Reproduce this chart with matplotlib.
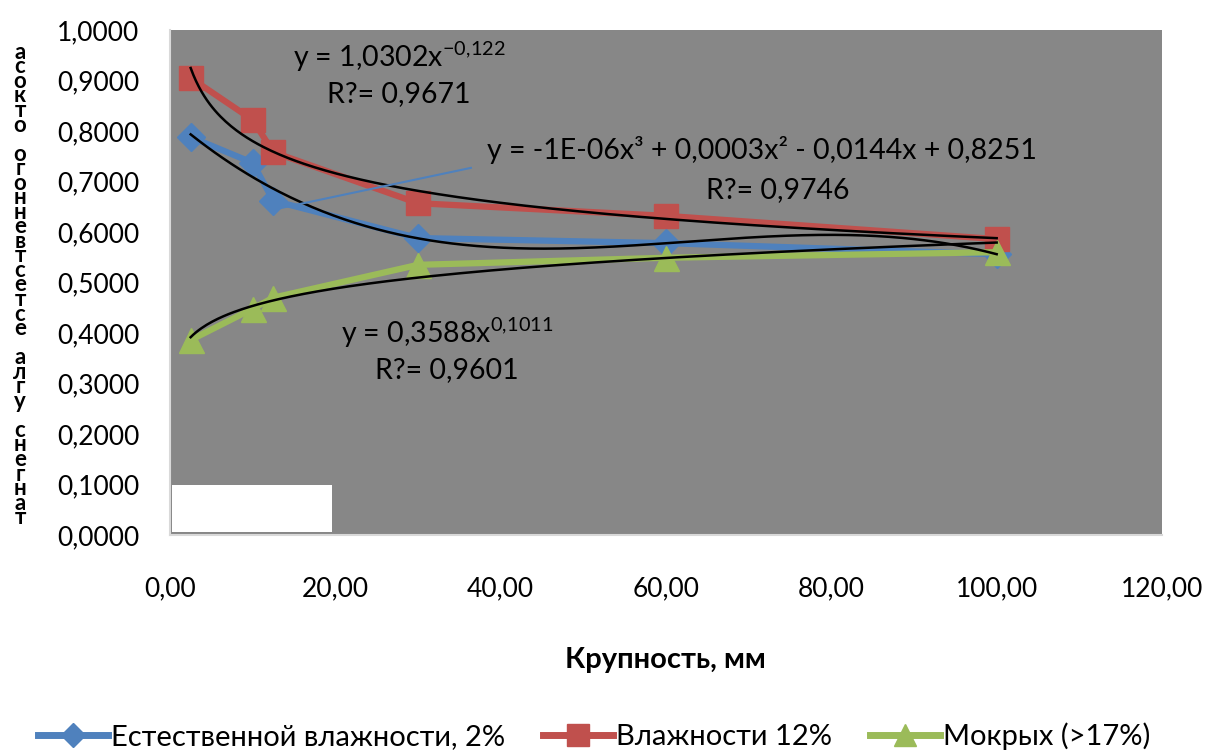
import numpy as np
import matplotlib
matplotlib.use('Agg')
import matplotlib.pyplot as plt
from matplotlib.lines import Line2D
from matplotlib.patches import Rectangle

plt.rcParams['font.family'] = ['Lato', 'DejaVu Sans']
plt.rcParams['mathtext.fontset'] = 'custom'
plt.rcParams['mathtext.rm'] = 'Lato'

# data
size_mm = [2.5, 10, 12.5, 30, 60, 100]
natural = [0.788, 0.737, 0.662, 0.588, 0.578, 0.556]   # 2%
moist12 = [0.905, 0.822, 0.758, 0.657, 0.632, 0.586]   # 12%
wet = [0.386, 0.448, 0.470, 0.535, 0.549, 0.560]       # >17%

names = ['Естественной влажности, 2%', 'Влажности 12%', 'Мокрых (>17%)']
colors = ['#4F81BD', '#C0504D', '#9BBB59']
markers = ['D', 's', '^']
msizes = [14, 17, 18]

y_label = 'тангенс угла естественного откоса'

W, H = 1213, 756
fig = plt.figure(figsize=(W / 100, H / 100), dpi=100)
ax = fig.add_axes([170 / W, 1 - 535 / H, 992 / W, 505 / H])
ax.set_facecolor('#878787')

x = np.array(size_mm)
for ys, c, m, ms in zip([natural, moist12, wet], colors, markers, msizes):
    ax.plot(x, ys, color=c, lw=4.5, marker=m, ms=ms, zorder=3)

# trend lines (fitted like Excel does)
xx = np.linspace(2.5, 100, 300)
p3 = np.polyfit(x, natural, 3)
ax.plot(xx, np.polyval(p3, xx), color='black', lw=1.8, zorder=4)
for ys in [moist12, wet]:
    b, a = np.polyfit(np.log(x), np.log(ys), 1)
    ax.plot(xx, np.exp(a) * xx ** b, color='black', lw=1.8, zorder=4)

# leader line of the polynomial label
ax.plot([12.4, 36.4], [0.644, 0.727], color='#4F81BD', lw=1.5, zorder=5)

ax.add_patch(Rectangle((0.002, 0.006), 0.161, 0.093, transform=ax.transAxes,
                       facecolor='white', edgecolor='none', zorder=6))

ax.set_xlim(0, 120)
ax.set_ylim(0, 1)
ax.set_xticks(np.arange(0, 121, 20))
ax.set_yticks(np.arange(0, 1.01, 0.1))
ax.set_xticklabels([f'{v:.2f}'.replace('.', ',') for v in np.arange(0, 121, 20)])
ax.set_yticklabels([f'{v:.4f}'.replace('.', ',') for v in np.arange(0, 1.01, 0.1)])
ax.tick_params(axis='x', length=0, pad=30, labelsize=19)
ax.tick_params(axis='y', length=0, pad=22, labelsize=19)
for s in ['top', 'right']:
    ax.spines[s].set_visible(False)
for s in ['left', 'bottom']:
    ax.spines[s].set_color('#d9d9d9')
    ax.spines[s].set_linewidth(1.5)


def ft(px, py, s, **kw):
    return fig.text(px / W, 1 - py / H, s, ha='center', va='center', **kw)


ft(399, 57, r'y = 1,0302x$^{-0{,}122}$', fontsize=20.5)
ft(399, 94, 'R?= 0,9671', fontsize=20.5)
ft(762, 150, 'y = -1E-06x³ + 0,0003x² - 0,0144x + 0,8251', fontsize=20.5)
ft(778, 190, 'R?= 0,9746', fontsize=20.5)
ft(447, 333, r'y = 0,3588x$^{0{,}1011}$', fontsize=20.5)
ft(447, 370, 'R?= 0,9601', fontsize=20.5)

ft(665, 660, 'Крупность, мм', fontsize=21, fontweight='bold')

# stacked y-axis label, one text
ft(20, 285, '\n'.join(y_label[::-1]), fontsize=16, fontweight='bold',
   linespacing=0.62)

handles = [Line2D([], [], color=c, lw=5, marker=m, ms=ms * 0.9)
           for c, m, ms in zip(colors, markers, msizes)]
fig.legend(handles, names, loc='center', bbox_to_anchor=(0.49, 0.026), ncol=3,
           frameon=False, fontsize=21, handlelength=2.4, handletextpad=0.1,
           columnspacing=1.3)

fig.savefig('out.png', dpi=100)
